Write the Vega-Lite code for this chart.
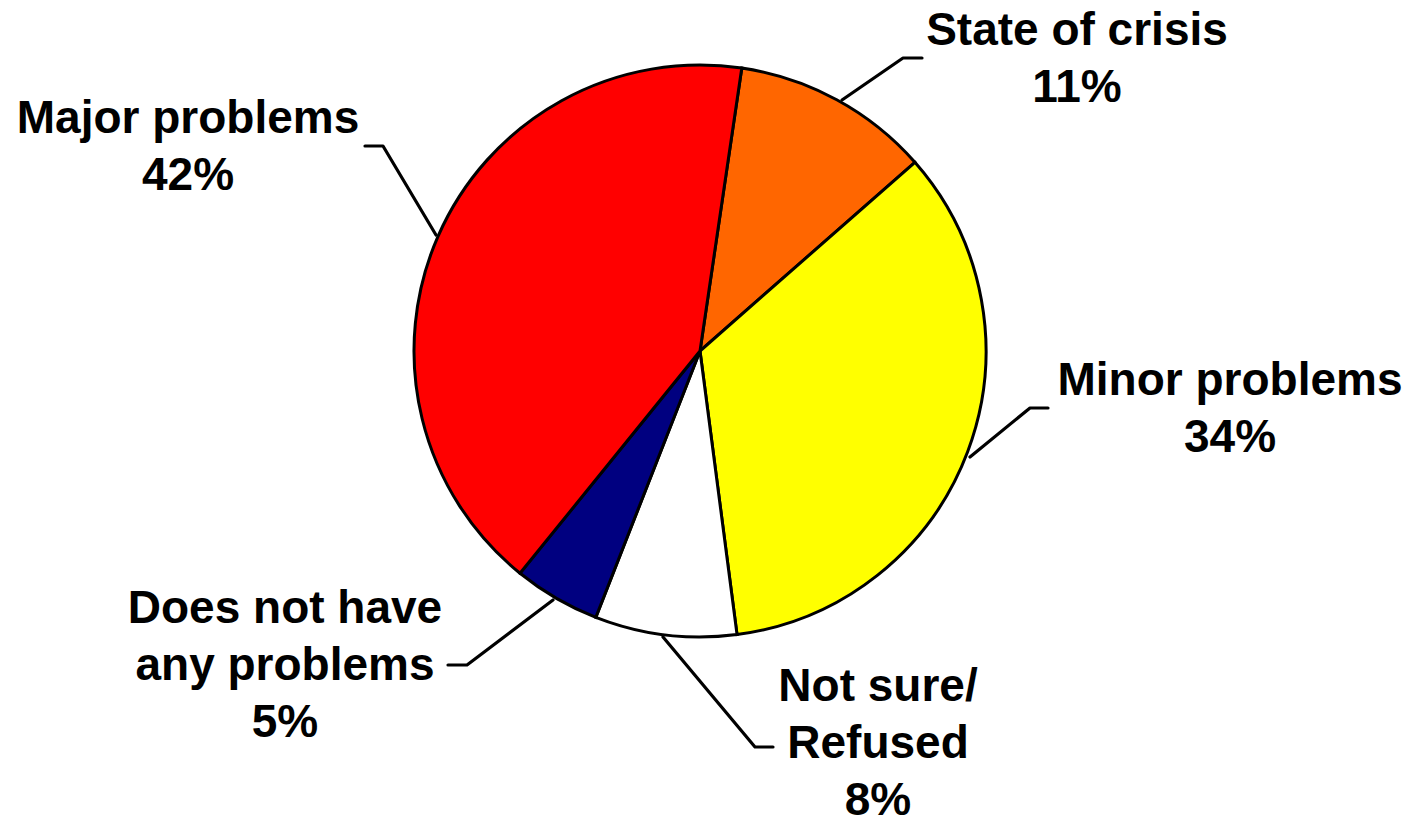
{
  "$schema": "https://vega.github.io/schema/vega-lite/v6.json",
  "width": 1400,
  "height": 702,
  "autosize": {"type": "none"},
  "padding": {"left": 0, "top": 0, "right": 13, "bottom": 120},
  "background": "white",
  "config": {"view": {"stroke": null}},
  "datasets": {
    "slices": [
      {"category": "State of crisis", "value": 0.112, "order": 1},
      {"category": "Minor problems", "value": 0.344, "order": 2},
      {"category": "Not sure/Refused", "value": 0.08, "order": 3},
      {"category": "Does not have any problems", "value": 0.049, "order": 4},
      {"category": "Major problems", "value": 0.415, "order": 5}
    ],
    "labels": [
      {"category": "State of crisis", "text": ["State of crisis", "11%"], "x": 377, "y": -306},
      {"category": "Minor problems", "text": ["Minor problems", "34%"], "x": 530, "y": 44},
      {"category": "Not sure/Refused", "text": ["Not sure/", "Refused", "8%"], "x": 178, "y": 350},
      {"category": "Does not have any problems", "text": ["Does not have", "any problems", "5%"], "x": -415, "y": 272},
      {"category": "Major problems", "text": ["Major problems", "42%"], "x": -512, "y": -218}
    ],
    "leaders": [
      {"category": "Major problems", "step": 1, "x": -264, "y": -116},
      {"category": "Major problems", "step": 2, "x": -317, "y": -205},
      {"category": "Major problems", "step": 3, "x": -335, "y": -205},
      {"category": "State of crisis", "step": 1, "x": 142, "y": -251},
      {"category": "State of crisis", "step": 2, "x": 203, "y": -293},
      {"category": "State of crisis", "step": 3, "x": 222, "y": -293},
      {"category": "Minor problems", "step": 1, "x": 270, "y": 106},
      {"category": "Minor problems", "step": 2, "x": 330, "y": 57},
      {"category": "Minor problems", "step": 3, "x": 348, "y": 57},
      {"category": "Not sure/Refused", "step": 1, "x": -37, "y": 286},
      {"category": "Not sure/Refused", "step": 2, "x": 55, "y": 396},
      {"category": "Not sure/Refused", "step": 3, "x": 73, "y": 396},
      {"category": "Does not have any problems", "step": 1, "x": -147, "y": 249},
      {"category": "Does not have any problems", "step": 2, "x": -233, "y": 314},
      {"category": "Does not have any problems", "step": 3, "x": -252, "y": 314}
    ]
  },
  "layer": [
    {
      "data": {"name": "slices"},
      "mark": {"type": "arc", "outerRadius": 286, "stroke": "black", "strokeWidth": 3},
      "encoding": {
        "theta": {"field": "value", "type": "quantitative", "stack": true, "scale": {"range": [0.1466, 6.4298]}},
        "order": {"field": "order", "type": "quantitative"},
        "color": {
          "field": "category",
          "type": "nominal",
          "scale": {
            "domain": ["State of crisis", "Minor problems", "Not sure/Refused", "Does not have any problems", "Major problems"],
            "range": ["#FF6600", "#FFFF00", "#FFFFFF", "#000080", "#FF0000"]
          },
          "legend": null
        }
      }
    },
    {
      "data": {"name": "leaders"},
      "mark": {"type": "line", "stroke": "black", "strokeWidth": 3.2, "strokeCap": "round", "strokeJoin": "round"},
      "encoding": {
        "x": {"field": "x", "type": "quantitative", "scale": {"domain": [-700, 700], "nice": false, "zero": false}, "axis": null},
        "y": {"field": "y", "type": "quantitative", "scale": {"domain": [-351, 351], "nice": false, "zero": false, "reverse": true}, "axis": null},
        "detail": {"field": "category"},
        "order": {"field": "step", "type": "quantitative"}
      }
    },
    {
      "data": {"name": "labels"},
      "mark": {"type": "text", "font": "Liberation Sans", "fontWeight": "bold", "fontSize": 46, "lineHeight": 57, "align": "center", "baseline": "alphabetic", "color": "black"},
      "encoding": {
        "x": {"field": "x", "type": "quantitative", "scale": {"domain": [-700, 700], "nice": false, "zero": false}, "axis": null},
        "y": {"field": "y", "type": "quantitative", "scale": {"domain": [-351, 351], "nice": false, "zero": false, "reverse": true}, "axis": null},
        "text": {"field": "text"}
      }
    }
  ]
}
